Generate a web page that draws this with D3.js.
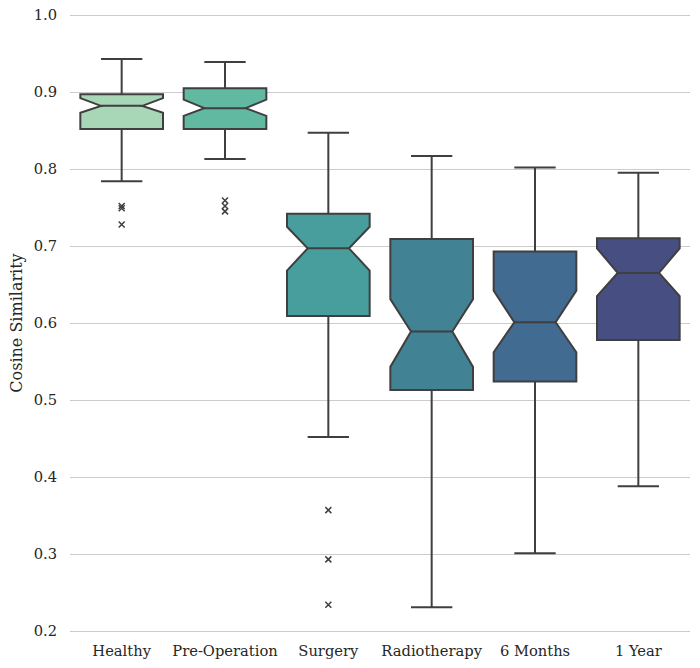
<!DOCTYPE html>
<html>
<head>
<meta charset="utf-8">
<script src="https://cdn.jsdelivr.net/npm/d3@7"></script>
<style>
  body { margin: 0; background: #fff; }
</style>
</head>
<body>
<div id="chart"></div>
<script>
var width = 700, height = 668;
var margin = {top: 15, right: 10, bottom: 37, left: 70};
var font = "'DejaVu Serif', 'Liberation Serif', serif";

// values
var categories = ["Healthy", "Pre-Operation", "Surgery", "Radiotherapy", "6 Months", "1 Year"];
var whiskerHigh = [0.943, 0.939, 0.847, 0.817, 0.802, 0.795];
var q3 = [0.897, 0.905, 0.742, 0.709, 0.693, 0.710];
var medians = [0.882, 0.879, 0.697, 0.589, 0.601, 0.665];
var q1 = [0.852, 0.852, 0.609, 0.513, 0.524, 0.578];
var whiskerLow = [0.784, 0.813, 0.452, 0.231, 0.301, 0.388];
var notchHigh = [0.892, 0.890, 0.725, 0.631, 0.642, 0.697];
var notchLow = [0.873, 0.869, 0.668, 0.543, 0.562, 0.635];
var outliers = [[0.752, 0.749, 0.728], [0.759, 0.752, 0.745], [0.357, 0.293, 0.234], [], [], []];
var colors = ["#a7d7b6", "#61b9a2", "#489e9c", "#428295", "#416b91", "#474f82"];
var yTicks = [0.2, 0.3, 0.4, 0.5, 0.6, 0.7, 0.8, 0.9, 1.0];

var edge = "#3f3f3f";

var svg = d3.select("#chart").append("svg")
  .attr("width", width)
  .attr("height", height);

var x = d3.scaleBand()
  .domain(categories)
  .range([margin.left, width - margin.right])
  .paddingInner(0).paddingOuter(0);

var y = d3.scaleLinear()
  .domain([0.2, 1.0])
  .range([height - margin.bottom, margin.top]);

// grid + y labels
var yAxis = svg.append("g")
  .attr("transform", "translate(" + margin.left + ",0)")
  .call(d3.axisLeft(y).tickValues(yTicks).tickFormat(d3.format(".1f"))
    .tickSize(-(width - margin.left - margin.right)).tickPadding(13));
yAxis.select(".domain").remove();
yAxis.selectAll(".tick line").attr("stroke", "#cccccc").attr("stroke-width", 1.2);
yAxis.selectAll(".tick text")
  .style("font-family", font).style("font-size", "14.7px").attr("fill", "#262626");

// x labels
var xAxis = svg.append("g")
  .attr("transform", "translate(0," + (height - margin.bottom) + ")")
  .call(d3.axisBottom(x).tickSize(0).tickPadding(14.5));
xAxis.select(".domain").remove();
xAxis.selectAll(".tick text")
  .style("font-family", font).style("font-size", "14.7px").attr("fill", "#262626");

svg.append("text")
  .attr("transform", "translate(22," + ((margin.top + height - margin.bottom) / 2) + ") rotate(-90)")
  .attr("text-anchor", "middle")
  .attr("fill", "#262626")
  .style("font-family", font)
  .style("font-size", "16px")
  .text("Cosine Similarity");

var boxW = x.bandwidth() * 0.8;
var capW = boxW / 2;

var g = svg.append("g");
categories.forEach(function(c, i){
  var cx = x(c) + x.bandwidth() / 2;
  var l = cx - boxW / 2, r = cx + boxW / 2;
  var nl = cx - boxW / 4, nr = cx + boxW / 4;

  // whiskers
  g.append("line").attr("x1", cx).attr("x2", cx)
    .attr("y1", y(q3[i])).attr("y2", y(whiskerHigh[i]));
  g.append("line").attr("x1", cx).attr("x2", cx)
    .attr("y1", y(q1[i])).attr("y2", y(whiskerLow[i]));
  g.append("line").attr("x1", cx - capW / 2).attr("x2", cx + capW / 2)
    .attr("y1", y(whiskerHigh[i])).attr("y2", y(whiskerHigh[i]));
  g.append("line").attr("x1", cx - capW / 2).attr("x2", cx + capW / 2)
    .attr("y1", y(whiskerLow[i])).attr("y2", y(whiskerLow[i]));

  // notched box
  var pts = [
    [l, y(q1[i])], [l, y(notchLow[i])], [nl, y(medians[i])], [l, y(notchHigh[i])],
    [l, y(q3[i])], [r, y(q3[i])], [r, y(notchHigh[i])], [nr, y(medians[i])],
    [r, y(notchLow[i])], [r, y(q1[i])]
  ];
  g.append("path")
    .attr("d", d3.line()(pts) + "Z")
    .attr("fill", colors[i])
    .attr("stroke", edge)
    .attr("stroke-width", 2)
    .attr("stroke-linejoin", "miter");
  g.append("line").attr("x1", nl).attr("x2", nr)
    .attr("y1", y(medians[i])).attr("y2", y(medians[i]));

  // outliers as x markers
  outliers[i].forEach(function(v){
    var s = 3;
    var oy = y(v);
    g.append("path")
      .attr("d", "M" + (cx - s) + "," + (oy - s) + "L" + (cx + s) + "," + (oy + s) +
                 "M" + (cx - s) + "," + (oy + s) + "L" + (cx + s) + "," + (oy - s))
      .attr("stroke", edge).attr("stroke-width", 1.5).attr("fill", "none");
  });
});
g.selectAll("line").attr("stroke", edge).attr("stroke-width", 2);
</script>
</body>
</html>
